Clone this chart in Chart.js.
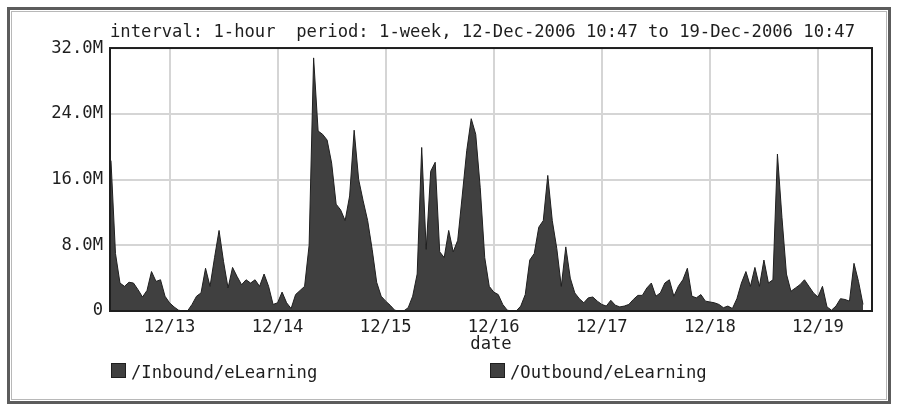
<!DOCTYPE html>
<html>
<head>
<meta charset="utf-8">
<script src="https://cdn.jsdelivr.net/npm/chart.js@4/dist/chart.umd.min.js"></script>
<style>
  html, body { margin: 0; padding: 0; background: #ffffff; }
  canvas { display: block; }
</style>
</head>
<body>
<canvas id="traffic" width="898" height="407"></canvas>
<script>
// Hourly eLearning traffic for one week, values in millions.
const chartTitle = 'interval: 1-hour  period: 1-week, 12-Dec-2006 10:47 to 19-Dec-2006 10:47';
const axisTitle = 'date';
const seriesNames = ['/Inbound/eLearning', '/Outbound/eLearning'];

// Hours are counted from 12-Dec-2006 00:00.
const periodStartHour = 10 + 47 / 60;
const periodEndHour = 180;
const firstSampleHour = 11;

const dayTickHours = [24, 48, 72, 96, 120, 144, 168];
const dayLabels = ['12/13', '12/14', '12/15', '12/16', '12/17', '12/18', '12/19'];

const yTickValues = [0, 8, 16, 24, 32];
const yTickLabels = ['0', '8.0M', '16.0M', '24.0M', '32.0M'];

const inbound = [
  18.3, 7.0, 3.4, 3.0, 3.5, 3.4, 2.6, 1.7, 2.5, 4.8, 3.6, 3.8,
  1.8, 1.0, 0.5, 0.1, 0, 0, 0.8, 1.8, 2.2, 5.2, 3.0, 6.5,
  9.8, 6.0, 2.8, 5.3, 4.2, 3.2, 3.8, 3.4, 3.8, 3.0, 4.5, 3.0,
  0.8, 1.0, 2.3, 1.0, 0.3, 2.0, 2.5, 3.0, 8.0, 30.8, 21.9, 21.5,
  20.8, 18.0, 13.0, 12.3, 11.0, 14.0, 22.0, 16.0, 13.4, 11.0, 7.5, 3.5,
  1.8, 1.2, 0.7, 0.1, 0, 0, 0.4, 1.8, 4.5, 19.9, 7.5, 17.0,
  18.1, 7.2, 6.5, 9.8, 7.2, 8.6, 14.0, 19.5, 23.4, 21.5, 15.0, 6.5,
  3.0, 2.3, 2.0, 0.8, 0.1, 0, 0, 0.6, 2.0, 6.2, 7.0, 10.2,
  11.0, 16.5, 11.0, 7.6, 3.0, 7.8, 4.0, 2.2, 1.5, 1.0, 1.6, 1.7,
  1.2, 0.8, 0.6, 1.3, 0.7, 0.5, 0.6, 0.8, 1.4, 1.9, 1.9, 2.8,
  3.4, 1.8, 2.2, 3.4, 3.8, 1.8, 3.0, 3.8, 5.2, 1.8, 1.6, 2.0,
  1.2, 1.1, 1.0, 0.8, 0.4, 0.6, 0.3, 1.5, 3.4, 4.8, 3.0, 5.3,
  3.0, 6.2, 3.4, 3.8, 19.1, 11.4, 4.5, 2.4, 2.8, 3.2, 3.8, 3.0,
  2.2, 1.7, 3.0, 0.5, 0.1, 0.6, 1.5, 1.4, 1.2, 5.8, 3.6, 0.8
];

const outbound = [
  0.6, 0.5, 0.5, 0.4, 0.5, 0.5, 0.4, 0.3, 0.4, 0.5, 0.5, 0.5,
  0.3, 0.2, 0.1, 0, 0, 0, 0.2, 0.3, 0.4, 0.5, 0.5, 0.5,
  0.6, 0.5, 0.4, 0.5, 0.5, 0.5, 0.5, 0.5, 0.5, 0.5, 0.5, 0.4,
  0.2, 0.2, 0.3, 0.2, 0.1, 0.3, 0.4, 0.4, 0.6, 1.2, 1.5, 2.0,
  3.0, 4.4, 2.5, 1.5, 1.0, 1.0, 1.2, 1.0, 0.8, 0.7, 0.5, 0.4,
  0.3, 0.2, 0.1, 0, 0, 0, 0.1, 0.3, 0.5, 0.6, 0.5, 0.6,
  0.6, 0.5, 0.5, 0.5, 0.5, 0.5, 0.6, 0.6, 0.6, 0.6, 0.5, 0.5,
  0.4, 0.3, 0.3, 0.1, 0, 0, 0, 0.1, 0.3, 0.5, 0.5, 0.5,
  0.6, 0.6, 0.5, 0.5, 0.4, 0.5, 0.4, 0.3, 0.3, 0.2, 0.2, 0.2,
  0.2, 0.1, 0.1, 0.2, 0.1, 0.1, 0.1, 0.1, 0.2, 0.3, 0.3, 0.4,
  0.4, 0.3, 0.3, 0.4, 0.4, 0.3, 0.4, 0.4, 0.5, 0.3, 0.3, 0.3,
  0.2, 0.2, 0.2, 0.1, 0.1, 0.1, 0.1, 0.2, 0.4, 0.5, 0.4, 0.5,
  0.4, 0.5, 0.5, 0.5, 0.6, 0.5, 0.3, 0.3, 0.4, 0.4, 0.4, 0.4,
  0.3, 0.3, 0.4, 0.1, 0, 0.1, 0.2, 0.2, 0.2, 0.5, 0.4, 0.2
];

const toPoints = values => values.map((v, i) => ({ x: firstSampleHour + i, y: v }));

const ink = '#1e1e1e';
const gridColor = '#d5d5d5';

Chart.defaults.font.family = "'DejaVu Sans Mono', monospace";
Chart.defaults.font.size = 17.2;
Chart.defaults.color = ink;

// White page with a grey double frame.
const pageFrame = {
  id: 'pageFrame',
  beforeDraw(chart) {
    const { ctx, width, height } = chart;
    ctx.save();
    ctx.fillStyle = '#ffffff';
    ctx.fillRect(0, 0, width, height);
    ctx.lineWidth = 3;
    ctx.strokeStyle = '#5c5c5c';
    ctx.strokeRect(8.5, 8.5, width - 17, height - 13);
    ctx.lineWidth = 1;
    ctx.strokeStyle = '#b8b8b8';
    ctx.strokeRect(11.5, 11.5, width - 23, height - 19);
    ctx.restore();
  }
};

// Dark box round the plotting area.
const plotBox = {
  id: 'plotBox',
  afterDatasetsDraw(chart) {
    const { ctx, chartArea: a } = chart;
    ctx.save();
    ctx.lineWidth = 2;
    ctx.strokeStyle = ink;
    ctx.strokeRect(a.left, a.top, a.right - a.left, a.bottom - a.top);
    ctx.restore();
  }
};

// Legend row under the axis title.
const legendRow = {
  id: 'legendRow',
  afterDraw(chart) {
    const { ctx, chartArea: a } = chart;
    const offsets = [1, 380];
    ctx.save();
    ctx.font = "17.2px 'DejaVu Sans Mono', monospace";
    ctx.textBaseline = 'alphabetic';
    ctx.textAlign = 'left';
    chart.data.datasets.forEach((ds, i) => {
      const x = a.left + offsets[i];
      const y = a.bottom + 52;
      ctx.fillStyle = ds.backgroundColor;
      ctx.fillRect(x, y, 15, 15);
      ctx.lineWidth = 1;
      ctx.strokeStyle = ds.borderColor;
      ctx.strokeRect(x + 0.5, y + 0.5, 14, 14);
      ctx.fillStyle = ink;
      ctx.fillText(ds.label, x + 20, y + 15);
    });
    ctx.restore();
  }
};

new Chart(document.getElementById('traffic'), {
  type: 'line',
  data: {
    datasets: [
      {
        label: seriesNames[0],
        data: toPoints(inbound),
        fill: 'origin',
        backgroundColor: '#404040',
        borderColor: '#1f1f1f',
        borderWidth: 1,
        pointRadius: 0,
        tension: 0
      },
      {
        label: seriesNames[1],
        data: toPoints(outbound),
        fill: 'origin',
        backgroundColor: '#404040',
        borderColor: '#1f1f1f',
        borderWidth: 1,
        pointRadius: 0,
        tension: 0
      }
    ]
  },
  options: {
    responsive: false,
    animation: false,
    devicePixelRatio: 1,
    layout: { padding: { left: 0, right: 26, top: 0, bottom: 44 } },
    plugins: {
      legend: { display: false },
      tooltip: { enabled: false },
      title: {
        display: true,
        text: chartTitle,
        align: 'start',
        fullSize: false,
        color: ink,
        font: { size: 17.2, weight: 'normal' },
        padding: { top: 22, bottom: 5.4 }
      }
    },
    scales: {
      x: {
        type: 'linear',
        min: periodStartHour,
        max: periodEndHour,
        afterBuildTicks(scale) {
          scale.ticks = dayTickHours.map(v => ({ value: v }));
        },
        afterFit(scale) { scale.height = 52; },
        ticks: {
          autoSkip: false,
          maxRotation: 0,
          padding: 6,
          callback: v => dayLabels[dayTickHours.indexOf(v)]
        },
        grid: { color: gridColor, lineWidth: 2, drawTicks: false },
        border: { display: false },
        title: {
          display: true,
          text: axisTitle,
          color: ink,
          font: { size: 17.2 },
          padding: { top: 0, bottom: 8 }
        }
      },
      y: {
        type: 'linear',
        min: 0,
        max: 32,
        afterBuildTicks(scale) {
          scale.ticks = yTickValues.map(v => ({ value: v }));
        },
        afterFit(scale) { scale.width = 110; },
        ticks: {
          padding: 7,
          callback: v => yTickLabels[yTickValues.indexOf(v)]
        },
        grid: { color: gridColor, lineWidth: 2, drawTicks: false },
        border: { display: false }
      }
    }
  },
  plugins: [pageFrame, plotBox, legendRow]
});
</script>
</body>
</html>
